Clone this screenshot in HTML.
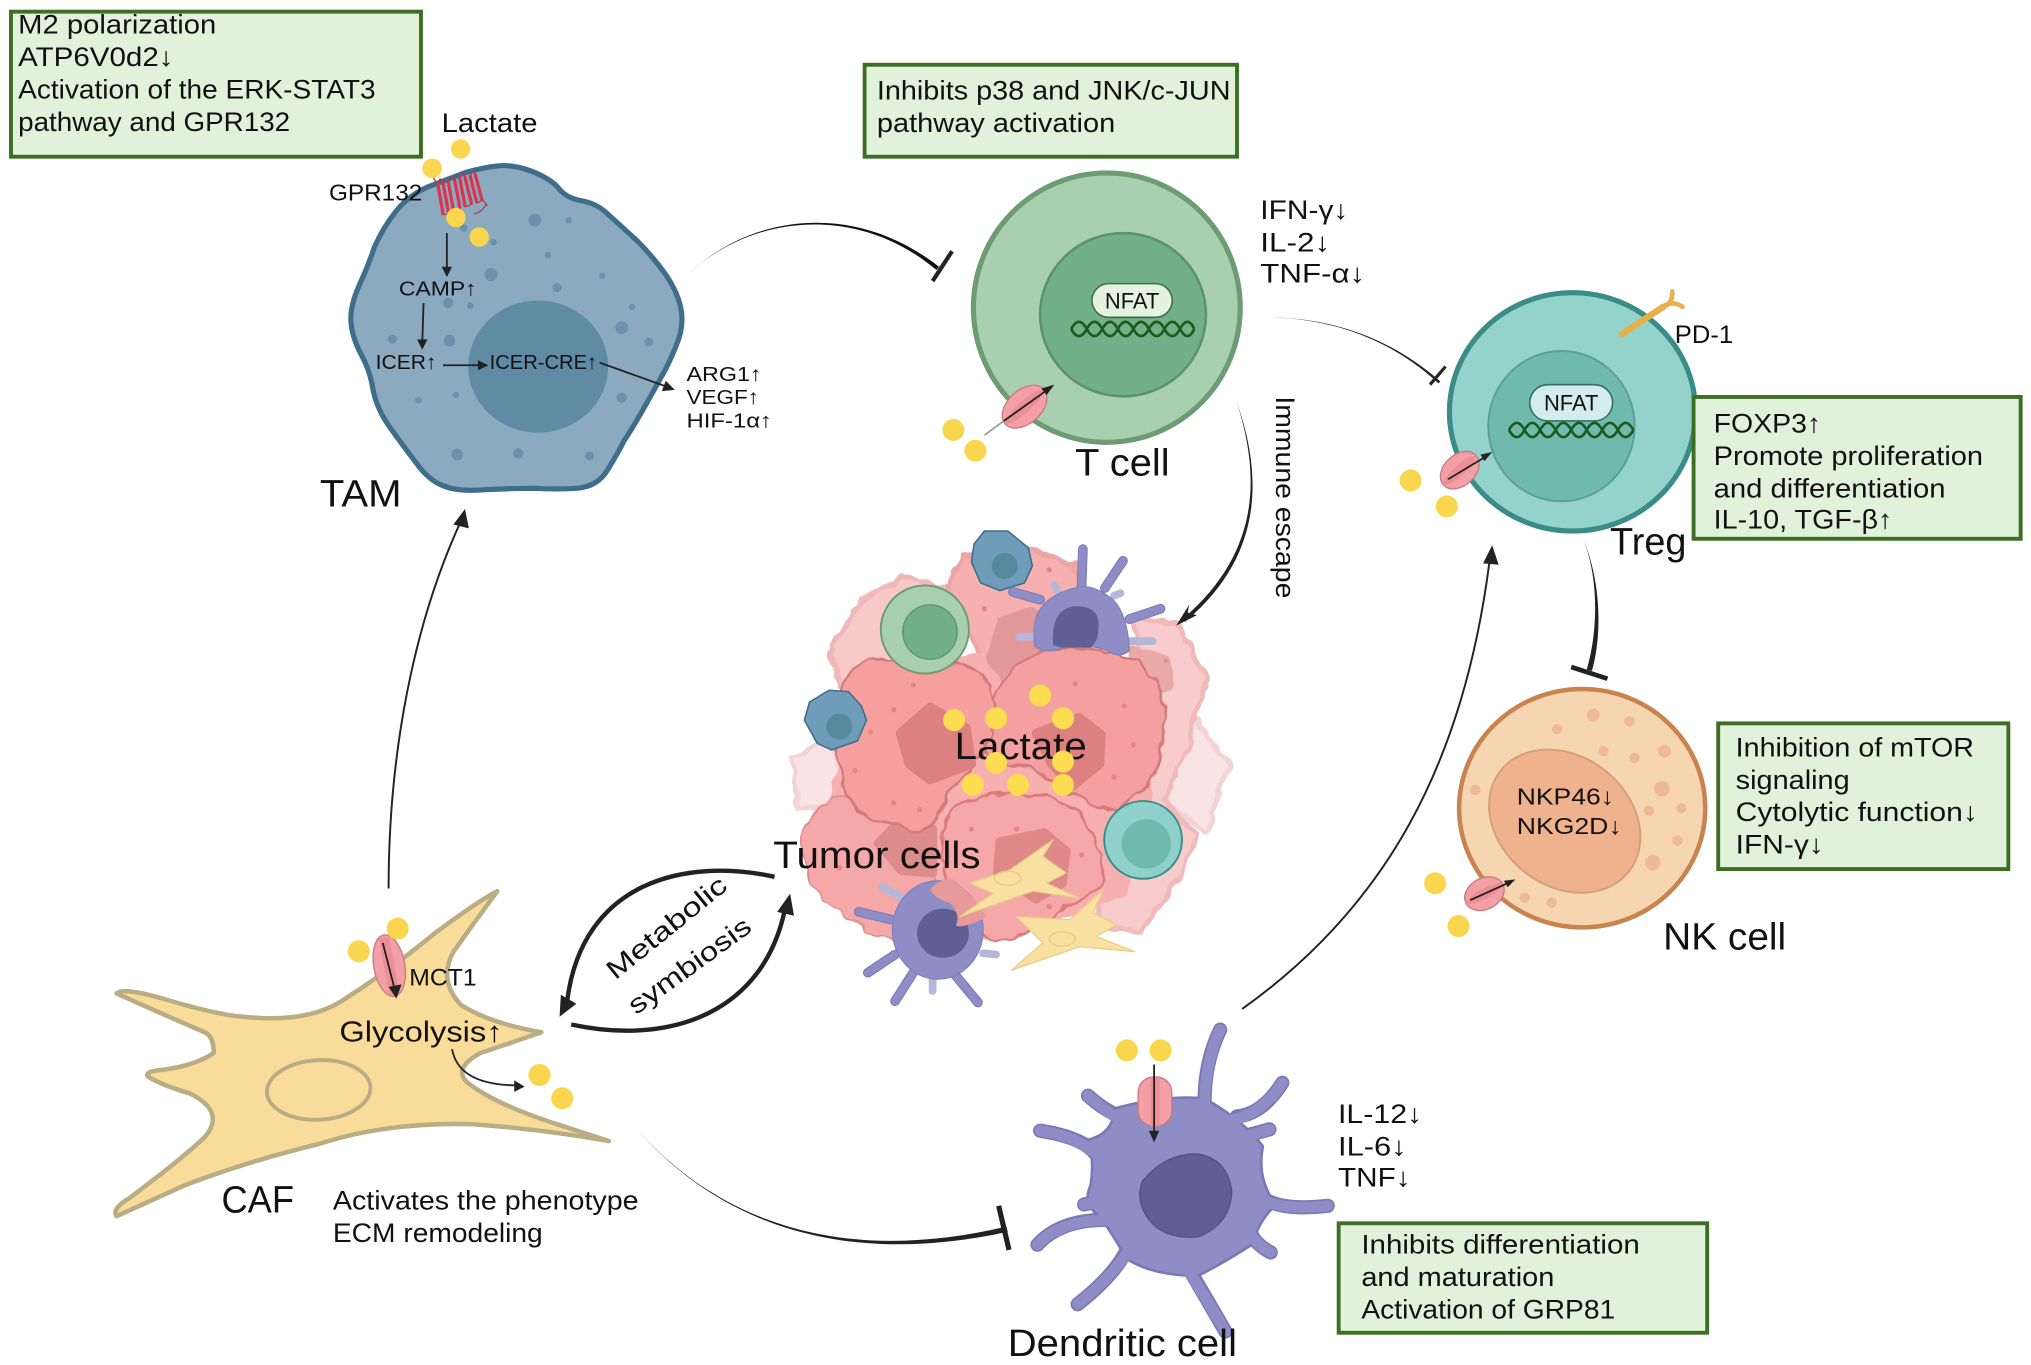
<!DOCTYPE html>
<html><head><meta charset="utf-8"><style>
html,body{margin:0;padding:0;background:#fff}
svg{display:block}
text{font-family:"Liberation Sans","DejaVu Sans",sans-serif;fill:#111}
.b{fill:#e0f2d9;stroke:#3c6e24;stroke-width:3}
.t{font-size:20.5px}
.l{font-size:29.5px}
.s{font-size:16px}
.y{fill:#fad64f}
.pt{fill:#f2a0a5;stroke:#c9787c;stroke-width:1}
.k{fill:none;stroke:#222;stroke-width:1.4}
.a{fill:#222}
.dd{stroke:#8e8dc6;stroke-width:6;stroke-linecap:round;fill:none}
.do{stroke:#7a78b5;stroke-width:7.5;stroke-linecap:round;fill:none}
.dl{stroke:#b5b6d8;stroke-width:6;stroke-linecap:round;fill:none}
.n{stroke-width:7;stroke-linejoin:round}
</style></head><body>
<svg width="2031" height="1365" viewBox="0 0 1568 1053.9" preserveAspectRatio="none" xmlns="http://www.w3.org/2000/svg">
<defs>
<filter id="w" x="-10%" y="-10%" width="120%" height="120%"><feTurbulence type="fractalNoise" baseFrequency="0.07" numOctaves="2" seed="4"/><feDisplacementMap in="SourceGraphic" scale="9" xChannelSelector="R" yChannelSelector="G"/></filter>
<filter id="w2" x="-10%" y="-10%" width="120%" height="120%"><feTurbulence type="fractalNoise" baseFrequency="0.035" numOctaves="2" seed="9"/><feDisplacementMap in="SourceGraphic" scale="9" xChannelSelector="R" yChannelSelector="G"/></filter>
</defs>
<rect width="1568" height="1054" fill="#fff"/>

<!-- TAM -->
<path d="M410,132 Q425,138 431,145 Q437,153 449,155 Q461,157 470,166 Q480,175 492,186 Q504,198 514,212 Q524,227 526,240 Q528,253 522,267 Q516,282 510,292 Q504,303 496,317 Q488,331 482,340 Q477,350 469,363 Q461,376 445,377 Q429,378 413,377 Q398,377 376,378 Q354,380 342,375 Q331,371 321,357 Q311,344 301,330 Q291,316 288,301 Q286,287 279,274 Q272,261 271,249 Q270,237 277,221 Q284,206 289,191 Q295,177 305,164 Q315,151 331,144 Q347,138 360,133 Q374,129 385,128 Q396,127 410,132 Z" fill="#8baac0" stroke="#3f6e8a" stroke-width="4"/>
<ellipse cx="415.5" cy="283" rx="54" ry="51" fill="#5f8ba4"/>
<g fill="#6d91a9">
<circle cx="413" cy="170" r="5"/><circle cx="439" cy="170" r="2.5"/><circle cx="379" cy="212" r="5"/><circle cx="423" cy="197" r="2.5"/><circle cx="465" cy="213" r="2.5"/><circle cx="430" cy="222" r="3.5"/><circle cx="346" cy="234" r="4"/><circle cx="363" cy="236" r="2.5"/><circle cx="488" cy="237" r="2.5"/><circle cx="480" cy="253" r="5"/><circle cx="501" cy="264" r="3.5"/><circle cx="303" cy="262" r="3.5"/><circle cx="347" cy="263" r="4.5"/><circle cx="323" cy="309" r="2.5"/><circle cx="352" cy="305" r="2.5"/><circle cx="480" cy="307" r="4"/><circle cx="353" cy="351" r="4.5"/><circle cx="400" cy="350" r="4"/><circle cx="455" cy="352" r="3.5"/><circle cx="358" cy="176" r="3"/><circle cx="381" cy="187" r="2.5"/>
</g>
<!-- GPR132 -->
<g stroke="#d8364f" stroke-width="2.5" fill="none" stroke-linecap="round">
<path d="M338,142 L342,165M342,141 L346,163M346,140 L350,162M351,139 L355,160M355,138 L359,159M359,137 L364,157M363,136 L368,156M367,135 L372,154"/>
</g>
<path d="M333,134 Q337,142 338,142 M338,142 Q340,135 342,141 M346,140 Q349,133 351,139 M355,138 Q358,131 359,137 M363,136 Q366,129 367,135 M342,165 Q345,167 346,163 M350,162 Q353,165 355,160 M359,159 Q362,160 364,157 M368,156 Q370,157 372,154 M372,154 Q378,160 375,158 Q372,164 366,165" stroke="#b2394d" stroke-width="1" fill="none"/>
<circle class="y" cx="355.6" cy="115" r="7.5"/><circle class="y" cx="333.6" cy="130" r="7.5"/><circle class="y" cx="352" cy="168" r="7.5"/><circle class="y" cx="370" cy="183" r="7.5"/>
<path class="k" d="M345,180 L345,209M327,234 L326,265M342,282 L372,282M463,280 L516,299"/>
<polygon class="a" points="345,214 341,206 349,206"/>
<polygon class="a" points="326,270 322,262 330,262"/>
<polygon class="a" points="377,282 369,278 369,286"/>
<polygon class="a" points="521,301 511,302 514,294"/>
<text class="s" x="308" y="228" textLength="60" lengthAdjust="spacingAndGlyphs">CAMP↑</text>
<text class="s" x="290" y="285" textLength="47" lengthAdjust="spacingAndGlyphs">ICER↑</text>
<text class="s" x="378" y="285" textLength="83" lengthAdjust="spacingAndGlyphs">ICER-CRE↑</text>
<text class="s" x="530" y="294" textLength="58" lengthAdjust="spacingAndGlyphs">ARG1↑</text>
<text class="s" x="530" y="312" textLength="56" lengthAdjust="spacingAndGlyphs">VEGF↑</text>
<text class="s" x="530" y="330" textLength="66" lengthAdjust="spacingAndGlyphs">HIF-1α↑</text>
<text x="254" y="155" font-size="18" textLength="72" lengthAdjust="spacingAndGlyphs">GPR132</text>
<text x="341" y="102" font-size="21" textLength="74" lengthAdjust="spacingAndGlyphs">Lactate</text>
<text class="l" x="247" y="391" textLength="63" lengthAdjust="spacingAndGlyphs">TAM</text>

<!-- Box TAM -->
<rect class="b" x="8.5" y="9" width="316.5" height="112"/>
<text class="t" x="14" y="26" textLength="153" lengthAdjust="spacingAndGlyphs">M2 polarization</text>
<text class="t" x="14" y="51" textLength="120" lengthAdjust="spacingAndGlyphs">ATP6V0d2↓</text>
<text class="t" x="14" y="76" textLength="276" lengthAdjust="spacingAndGlyphs">Activation of the ERK-STAT3</text>
<text class="t" x="14" y="101" textLength="210" lengthAdjust="spacingAndGlyphs">pathway and GPR132</text>

<!-- Box T -->
<rect class="b" x="667.5" y="50" width="287.5" height="71"/>
<text class="t" x="677" y="77" textLength="273" lengthAdjust="spacingAndGlyphs">Inhibits p38 and JNK/c-JUN</text>
<text class="t" x="677" y="102" textLength="184" lengthAdjust="spacingAndGlyphs">pathway activation</text>

<!-- T cell -->
<ellipse cx="854.5" cy="237.5" rx="103" ry="104" fill="#a8d0b0" stroke="#6d9b73" stroke-width="4"/>
<ellipse cx="867" cy="243" rx="64" ry="63" fill="#72b08a" stroke="#5b9272" stroke-width="2"/>
<rect x="843" y="219" width="62" height="26" rx="13" fill="#e4f3df" stroke="#3f6d45" stroke-width="1.2"/>
<text x="874" y="238" font-size="17" text-anchor="middle" textLength="42" lengthAdjust="spacingAndGlyphs">NFAT</text>
<path d="M827,254 q6,-11 12,0 t12,0 t12,0 t12,0 t12,0 t12,0 t12,0 t11,0" fill="none" stroke="#1c5a1a" stroke-width="2"/>
<path d="M827,254 q6,11 12,0 t12,0 t12,0 t12,0 t12,0 t12,0 t12,0 t11,0" fill="none" stroke="#1c5a1a" stroke-width="2"/>
<g transform="translate(791,314) rotate(48)"><ellipse rx="13" ry="20" class="pt"/><ellipse rx="4.5" ry="19" fill="#e98f95"/></g>
<path d="M760,336 L790,314" fill="none" stroke="#999" stroke-width="1.3"/><path class="k" d="M775,325 L810,300" stroke-width="1.3"/>
<polygon class="a" points="814,297 808,305 804,300"/>
<circle class="y" cx="736" cy="332" r="8.5"/><circle class="y" cx="753" cy="348" r="8.5"/>
<text class="l" x="830" y="367" textLength="73" lengthAdjust="spacingAndGlyphs">T cell</text>
<text class="t" x="973" y="169" textLength="68" lengthAdjust="spacingAndGlyphs">IFN-γ↓</text>
<text class="t" x="973" y="194" textLength="54" lengthAdjust="spacingAndGlyphs">IL-2↓</text>
<text class="t" x="973" y="218" textLength="81" lengthAdjust="spacingAndGlyphs">TNF-α↓</text>

<!-- Treg -->
<ellipse cx="1214" cy="318" rx="95" ry="92" fill="#94d2cc" stroke="#3a8c87" stroke-width="4"/>
<ellipse cx="1205.5" cy="329" rx="56.5" ry="58" fill="#6fb9ae" stroke="#5a9f98" stroke-width="1.5"/>
<rect x="1181" y="297" width="64" height="28" rx="14" fill="#d5ecec" stroke="#2f6f68" stroke-width="1.2"/>
<text x="1213" y="317" font-size="17" text-anchor="middle" textLength="42" lengthAdjust="spacingAndGlyphs">NFAT</text>
<path d="M1165,332 q6,-11 12,0 t12,0 t12,0 t12,0 t12,0 t12,0 t12,0 t12,0" fill="none" stroke="#1c5a1a" stroke-width="2"/>
<path d="M1165,332 q6,11 12,0 t12,0 t12,0 t12,0 t12,0 t12,0 t12,0 t12,0" fill="none" stroke="#1c5a1a" stroke-width="2"/>
<g stroke="#e6b04a" fill="none" stroke-linecap="round"><path d="M1252,258 L1284,237" stroke-width="5"/><path d="M1283,238 Q1292,234 1291,225M1285,236 Q1292,232 1299,237" stroke-width="3.5"/></g>
<text x="1293" y="265" font-size="19" textLength="45" lengthAdjust="spacingAndGlyphs">PD-1</text>
<g transform="translate(1127,363) rotate(48)"><ellipse rx="12" ry="17" class="pt"/><ellipse rx="4" ry="16" fill="#e98f95"/></g>
<path class="k" d="M1118,370 L1148,352" stroke-width="1.2"/>
<polygon class="a" points="1152,349 1146,356 1143,351"/>
<circle class="y" cx="1089" cy="371" r="8.5"/><circle class="y" cx="1117" cy="391" r="8.5"/>
<rect class="b" x="1307.5" y="306.5" width="252.5" height="109.5"/>
<text class="t" x="1323" y="334" textLength="83" lengthAdjust="spacingAndGlyphs">FOXP3↑</text>
<text class="t" x="1323" y="359" textLength="208" lengthAdjust="spacingAndGlyphs">Promote proliferation</text>
<text class="t" x="1323" y="384" textLength="179" lengthAdjust="spacingAndGlyphs">and differentiation</text>
<text class="t" x="1323" y="408" textLength="138" lengthAdjust="spacingAndGlyphs">IL-10, TGF-β↑</text>
<text class="l" x="1243" y="428" textLength="59" lengthAdjust="spacingAndGlyphs">Treg</text>

<!-- NK -->
<ellipse cx="1221.5" cy="624" rx="95" ry="92" fill="#f6d6b0" stroke="#c9834f" stroke-width="3.5"/>
<ellipse cx="1208" cy="634" rx="63" ry="50" transform="rotate(38 1208 634)" fill="#eeb28c" stroke="#d69f7c" stroke-width="1.5"/>
<g fill="#eeb99a">
<circle cx="1230" cy="552" r="5"/><circle cx="1202" cy="563" r="4"/><circle cx="1258" cy="557" r="4"/><circle cx="1238" cy="580" r="4"/><circle cx="1262" cy="585" r="4"/><circle cx="1285" cy="580" r="5"/><circle cx="1283" cy="609" r="6"/><circle cx="1273" cy="626" r="4"/><circle cx="1298" cy="624" r="4"/><circle cx="1295" cy="649" r="4"/><circle cx="1276" cy="666" r="6"/><circle cx="1139" cy="610" r="4"/><circle cx="1177" cy="693" r="4"/><circle cx="1198" cy="697" r="4"/>
</g>
<text x="1171" y="621" font-size="18" textLength="75" lengthAdjust="spacingAndGlyphs">NKP46↓</text>
<text x="1171" y="644" font-size="18" textLength="81" lengthAdjust="spacingAndGlyphs">NKG2D↓</text>
<g transform="translate(1146,690) rotate(62)"><ellipse rx="12" ry="16" class="pt"/><ellipse rx="4" ry="15" fill="#e98f95"/></g>
<path class="k" d="M1135,695 L1166,681" stroke-width="1.2"/>
<polygon class="a" points="1170,679 1164,685 1161,680"/>
<circle class="y" cx="1108" cy="682" r="8.5"/><circle class="y" cx="1126" cy="715" r="8.5"/>
<rect class="b" x="1326.5" y="558.5" width="224" height="112.5"/>
<text class="t" x="1340" y="584" textLength="184" lengthAdjust="spacingAndGlyphs">Inhibition of mTOR</text>
<text class="t" x="1340" y="609" textLength="88" lengthAdjust="spacingAndGlyphs">signaling</text>
<text class="t" x="1340" y="634" textLength="187" lengthAdjust="spacingAndGlyphs">Cytolytic function↓</text>
<text class="t" x="1340" y="659" textLength="68" lengthAdjust="spacingAndGlyphs">IFN-γ↓</text>
<text class="l" x="1284" y="733" textLength="95" lengthAdjust="spacingAndGlyphs">NK cell</text>

<!-- Tumor cluster -->
<g stroke-linejoin="round" filter="url(#w)">
<polygon points="921,551 949,589 931,643 898,618 898,576" fill="#fae3e3" stroke="#f3d3d3" stroke-width="4"/>
<polygon points="611,584 646,571 646,623 617,624" fill="#fae3e3" stroke="#f3d3d3" stroke-width="4"/>
<polygon points="641,502 664,463 697,445 731,453 705,515 648,530" fill="#f7c9c9" stroke="#f0b8b8" stroke-width="4"/>
<polygon points="875,476 911,484 931,525 918.5,571 900,618 924,646 911,677 880,720 846,715 846,643 885,540" fill="#f8cccc" stroke="#f0baba" stroke-width="4"/>
<polygon points="743.5,428.5 797.6,424.6 828.5,435 833.6,458 859,502 769,530 730.7,455.5" fill="#f6b0b0" stroke="#eca6a6" stroke-width="4"/>
<polygon points="660,530 770,500 880,510 890,620 870,690 780,725 690,725 635,680 640,620" fill="#f6b0b0"/>
</g>
<g filter="url(#w2)">
<polygon class="n" points="764,507 774.4,478.6 797.6,473.5 808,499 777,525" fill="#e29898" stroke="#e29898"/>
<polygon class="n" points="875,502 898,509.5 903,530 885,533" fill="#e9a9a5" stroke="#e9a9a5"/>
</g>
<g filter="url(#w)">
<path d="M631,625 Q646,607 662,620 Q679,633 702,635 Q725,638 722,660 Q718,682 740,704 Q761,726 735,730 Q710,733 688,725 Q666,718 645,702 Q625,687 624,673 Q623,659 620,651 Q617,643 631,625Z" fill="#f5a8a8" stroke="#e08f8f" stroke-width="1.5"/>
</g>
<polygon class="n" points="678,651 691,638 720,640 720,674 696,672" fill="#dd8c8c" stroke="#dd8c8c"/>
<g filter="url(#w)">
<path d="M736,624 Q746,615 777,613 Q808,612 825,622 Q841,633 849,658 Q857,682 846,688 Q834,695 808,710 Q782,726 772,726 Q761,726 746,710 Q731,695 728,664 Q725,633 736,624Z" fill="#f6a8a8" stroke="#dc7c7c" stroke-width="2"/>
</g>
<polygon class="n" points="772,650 806,643 823,657 820,682 800,694 770,675" fill="#de8888" stroke="#de8888"/>
<g filter="url(#w)">
<path d="M782,516 Q792,502 832,500 Q872,502 888,521 Q903,540 898,570 Q893,600 884,609 Q875,618 862,624 Q849,630 839,621 Q828,612 813,602 Q798,592 780,590 Q761,589 759,575 Q756,561 764,545 Q772,530 782,516Z" fill="#f5a0a0" stroke="#d67a7a" stroke-width="2"/>
</g>
<polygon class="n" points="800,566 833,554 850,567 849,590 828,607 812,590" fill="#dd8080" stroke="#dd8080"/>
<g filter="url(#w)">
<path d="M654,522 Q661,512 674,509 Q687,507 700,512 Q713,517 731,513 Q749,509 760,524 Q772,538 764,565 Q756,592 742,602 Q728,612 727,624 Q725,636 715,640 Q705,643 683,636 Q661,628 656,618 Q651,607 648,593 Q646,579 646,556 Q647,533 654,522Z" fill="#f59f9f" stroke="#d47b7b" stroke-width="2"/>
</g>
<polygon class="n" points="695,566 718,546 746,562 750,590 718,602 702,590" fill="#dd8080" stroke="#dd8080"/>
<g fill="#e58585">
<circle cx="705" cy="529" r="2"/><circle cx="690" cy="548" r="2"/><circle cx="672" cy="565" r="2"/><circle cx="660" cy="595" r="2"/><circle cx="690" cy="620" r="2"/><circle cx="710" cy="625" r="2"/><circle cx="830" cy="528" r="2"/><circle cx="868" cy="545" r="2"/><circle cx="875" cy="575" r="2"/><circle cx="860" cy="600" r="2"/><circle cx="785" cy="640" r="2"/><circle cx="835" cy="660" r="2"/><circle cx="750" cy="640" r="2"/><circle cx="745" cy="690" r="2"/><circle cx="810" cy="700" r="2"/><circle cx="648" cy="670" r="2"/><circle cx="700" cy="700" r="2"/><circle cx="900" cy="510" r="1.5"/><circle cx="905" cy="660" r="1.5"/><circle cx="760" cy="470" r="2"/><circle cx="810" cy="440" r="2"/>
</g>
<!-- small cells -->
<circle cx="714" cy="486" r="34" fill="#a8d0b0" stroke="#6d9b73" stroke-width="1.5"/><circle cx="718" cy="488" r="21" fill="#72b08a" stroke="#5b9272"/>
<circle cx="882.5" cy="648.5" r="30" fill="#8fd0cb" stroke="#3a8c87" stroke-width="1.5"/><circle cx="885" cy="651.6" r="19" fill="#6fb9ae"/>
<polygon points="760,410 778,410 794,423 797,437 791,450 772,456 757,450 750,434 752,420" fill="#6f9cb8" stroke="#3f6e8a" stroke-width="1.2" stroke-linejoin="round"/><circle cx="775.7" cy="437" r="10" fill="#56899c"/>
<polygon points="640,533 655,534 665,545 669,556 662,572 642,579 631,574 621,556 625,542" fill="#6f9cb8" stroke="#3f6e8a" stroke-width="1.2" stroke-linejoin="round"/><circle cx="648" cy="561" r="10" fill="#56899c"/>
<!-- small DC 1 -->
<path class="dl" d="M872,495 L890,495M800,491.5 L787,491.5M820,462 L814,452M860,460 L865,458"/>
<path class="do" d="M835,453 L836,424M853,454 L867,433M872,478 L896,470M803,463 L782,457"/>
<path class="dd" d="M835,453 L836,424M853,454 L867,433M872,478 L896,470M803,463 L782,457"/>
<path d="M799,499 Q797,480 802,472 Q810,458 834,453 Q845,452 858,462 Q870,472 872,502 Q866,508 858,504 Q846,497 823,499 Q810,506 799,499Z" fill="#8e8dc6" stroke="#8080bb"/>
<path d="M813,498 Q811,470 830,468 Q850,468 848,485 Q848,495 842,500 L820,500 Z" fill="#5f5f93"/>
<!-- small DC 2 -->
<path class="dl" d="M759,736 L769,737M695,692 L681,685M720,757 L720,765"/>
<path class="do" d="M688,710 L663,704M691,737 L670,751M705,751 L691,773M736,751 L755,774"/>
<path class="dd" d="M688,710 L663,704M691,737 L670,751M705,751 L691,773M736,751 L755,774"/>
<ellipse cx="724" cy="718" rx="35" ry="38" fill="#8e8dc6" stroke="#8080bb"/>
<ellipse cx="728" cy="720.5" rx="20" ry="19" fill="#5f5f93"/>
<path d="M718,687 Q725,678 736,679 Q755,695 761.5,707.7 Q748,716 738,715 Q742,705 733,697 Q722,694 718,687Z" fill="#e89a9a"/>
<!-- small fibroblasts -->
<polygon points="813,648.5 805,661 823,674 808,682 833.6,693.5 797.6,688 741,707.7 766.7,689.7 748.7,682 779.6,671.6" fill="#f9e0a0" stroke="#e6cf8a" stroke-linejoin="round"/>
<ellipse cx="778" cy="678" rx="10" ry="5.5" fill="none" stroke="#e2c98a"/>
<polygon points="851.6,687 844,705 862,714 846.5,723 876,734.7 833.6,731 781,749 805,728 784.7,707.7 826,710" fill="#f9e0a0" stroke="#e6cf8a" stroke-linejoin="round"/>
<ellipse cx="820" cy="725" rx="10" ry="5.5" fill="none" stroke="#e2c98a"/>
<text class="l" x="737" y="586" textLength="102" lengthAdjust="spacingAndGlyphs">Lactate</text>
<g fill="#fcdc50">
<circle cx="736.6" cy="556" r="8.5"/><circle cx="769" cy="554.6" r="8.5"/><circle cx="803" cy="537" r="8.5"/><circle cx="820.7" cy="554.6" r="8.5"/><circle cx="769" cy="589" r="8.5"/><circle cx="820.7" cy="588" r="8.5"/><circle cx="751" cy="606" r="8.5"/><circle cx="786" cy="606" r="8.5"/><circle cx="820.7" cy="606" r="8.5"/>
</g>
<text class="l" x="597" y="670" textLength="160" lengthAdjust="spacingAndGlyphs">Tumor cells</text>

<!-- CAF -->
<path d="M384,688 Q362,718 350,735 Q338,757 356,776 Q378,790 418,797 Q392,806 371,813 Q349,825 361,836 Q382,852 424,866 L470,881 Q420,872 365,868 Q300,866 247,883 Q190,897 143,915 Q110,930 90,939 Q86,933 100,925 Q140,895 158,878 Q175,858 146,844 Q125,838 114,831 Q112,827 125,826 Q150,823 165,813 Q165,800 158,797 Q130,785 90,767 Q95,762 129,772 Q170,784 188,785 Q235,790 262,774 Q300,750 335,721 Q370,695 384,688 Z" fill="#f9dc9a" stroke="#b9ad84" stroke-width="3.5" stroke-linejoin="round"/>
<ellipse cx="246" cy="841.5" rx="40" ry="23" fill="none" stroke="#b9ad84" stroke-width="3" transform="rotate(-3 246 841)"/>
<g transform="translate(300.5,745.5) rotate(-10)"><ellipse rx="12" ry="24" class="pt"/><rect x="-4" y="-22" width="8" height="44" fill="#e98f95"/></g>
<path class="k" d="M295.5,728 L305,765" stroke-width="1.6"/>
<polygon class="a" points="306,771 300,762 310,760"/>
<circle class="y" cx="277" cy="734.5" r="8.5"/><circle class="y" cx="307" cy="717" r="8.5"/>
<text x="316" y="761" font-size="18.5" textLength="52" lengthAdjust="spacingAndGlyphs">MCT1</text>
<text x="262" y="804" font-size="22" textLength="126" lengthAdjust="spacingAndGlyphs">Glycolysis↑</text>
<path class="k" d="M349,810 C353,832 375,838 400,838" stroke-width="1.3"/>
<polygon class="a" points="405,839 397,843 397,834"/>
<circle class="y" cx="416.5" cy="830" r="8.5"/><circle class="y" cx="434" cy="848" r="8.5"/>
<text class="l" x="171" y="936" textLength="56" lengthAdjust="spacingAndGlyphs">CAF</text>
<text class="t" x="257" y="934" textLength="236" lengthAdjust="spacingAndGlyphs">Activates the phenotype</text>
<text class="t" x="257" y="959" textLength="162" lengthAdjust="spacingAndGlyphs">ECM remodeling</text>

<!-- DC -->
<g fill="none" stroke-linecap="round" stroke="#7a78b5" stroke-width="11">
<path d="M930,850 Q930,820 942,795M955,862 Q975,860 990,836M965,876 L980,872M975,925 Q990,935 1025,931M965,950 Q968,960 981,967M915,975 Q930,1000 946,1028M870,965 Q860,985 832,1007M860,942 Q820,940 801,961M845,928 L837,930M845,890 Q835,878 803,873M860,860 Q850,855 840,846"/>
</g>
<path d="M860,856 Q900,845 930,848 Q960,865 975,885 Q970,910 985,930 Q970,945 968,960 Q945,975 925,985 Q890,985 870,972 Q860,955 850,940 Q835,930 842,915 Q845,895 840,880 Q860,875 860,856Z" fill="#8e8dc6" stroke="#7a78b5" stroke-width="2"/>
<g fill="none" stroke-linecap="round" stroke="#8e8dc6" stroke-width="8.5">
<path d="M930,855 Q930,820 942,795M950,865 Q975,860 990,836M960,878 L980,872M970,925 Q990,935 1025,931M960,945 Q968,960 981,967M910,970 Q930,1000 946,1028M875,960 Q860,985 832,1007M865,942 Q820,940 801,961M850,928 L837,930M850,895 Q835,878 803,873M865,865 Q850,855 840,846"/>
</g>
<path d="M882,912 Q900,890 925,891 Q948,895 951,920 Q950,945 925,955 Q900,957 888,943 Q876,928 882,912 Z" fill="#5f5f93" stroke="#52527f"/>
<g transform="translate(891.7,850.5)"><rect x="-13" y="-19" width="26" height="38" rx="12" class="pt"/><rect x="-3.5" y="-19" width="7" height="38" fill="#e98f95"/></g>
<path class="k" d="M891,822 L891,876" stroke-width="1.6"/>
<polygon class="a" points="891,882 887,873 895,873"/>
<circle class="y" cx="870" cy="811" r="8.5"/><circle class="y" cx="896" cy="811" r="8.5"/>
<text class="t" x="1033" y="867" textLength="65" lengthAdjust="spacingAndGlyphs">IL-12↓</text>
<text class="t" x="1033" y="892" textLength="53" lengthAdjust="spacingAndGlyphs">IL-6↓</text>
<text class="t" x="1033" y="916" textLength="56" lengthAdjust="spacingAndGlyphs">TNF↓</text>
<rect class="b" x="1033.5" y="944.5" width="284.5" height="84.5"/>
<text class="t" x="1051" y="968" textLength="215" lengthAdjust="spacingAndGlyphs">Inhibits differentiation</text>
<text class="t" x="1051" y="993" textLength="149" lengthAdjust="spacingAndGlyphs">and maturation</text>
<text class="t" x="1051" y="1018" textLength="196" lengthAdjust="spacingAndGlyphs">Activation of GRP81</text>
<text class="l" x="778" y="1047" textLength="177" lengthAdjust="spacingAndGlyphs">Dendritic cell</text>

<!-- Connectors -->
<path d="M531,212 C580,165 660,155 725,206 L723,208.5 C662,157 580,165.5 531,212 Z" fill="#111"/>
<path d="M735,194 L720,217" stroke="#222" stroke-width="3.2" fill="none"/>
<path d="M977,245 C1030,245 1075,262 1112,294.5 L1110.5,296 C1075,263 1030,245.5 977,245 Z" fill="#222"/>
<path d="M1116,283 L1104,297" stroke="#222" stroke-width="2.4" fill="none"/>
<path d="M1223,418 C1236,450 1237,490 1229,518 L1225,517 C1233,490 1235,450 1223,418 Z" fill="#222"/>
<path d="M1213,515 L1241,524" stroke="#222" stroke-width="3.6" fill="none"/>
<path d="M490,870 C560,950 660,975 777,947 L778,951 C660,977 560,951 490,870 Z" fill="#222"/>
<path d="M771,931 L779,965" stroke="#222" stroke-width="4" fill="none"/>
<path d="M955,311 C972,365 975,425 913,478 L915,480 C977,428 974,365 955,311 Z" fill="#222"/>
<polygon class="a" points="908,483 918,467 917,473 924,475"/>
<path d="M598,677 C530,662 450,680 438,772" fill="none" stroke="#222" stroke-width="3.4"/>
<polygon class="a" points="432,785 433,768 445,775"/>
<path d="M441,791 C520,808 590,780 606,702" fill="none" stroke="#222" stroke-width="3.4"/>
<polygon class="a" points="610,690 600,704 613,707"/>
<path d="M300,686 C300,580 320,480 356,402" fill="none" stroke="#222" stroke-width="1.5"/>
<polygon class="a" points="359,393 350,405 362,408"/>
<path d="M959,779 C1070,700 1130,590 1150,433" fill="none" stroke="#222" stroke-width="1.5"/>
<polygon class="a" points="1152,421 1145,435 1157,436"/>

<text transform="translate(985,306) rotate(90)" font-size="20.5" textLength="156" lengthAdjust="spacingAndGlyphs">Immune escape</text>
<text transform="translate(475,757) rotate(-39)" font-size="20.5" textLength="113" lengthAdjust="spacingAndGlyphs">Metabolic</text>
<text transform="translate(491,784) rotate(-36)" font-size="20.5" textLength="112" lengthAdjust="spacingAndGlyphs">symbiosis</text>
</svg>
</body></html>
